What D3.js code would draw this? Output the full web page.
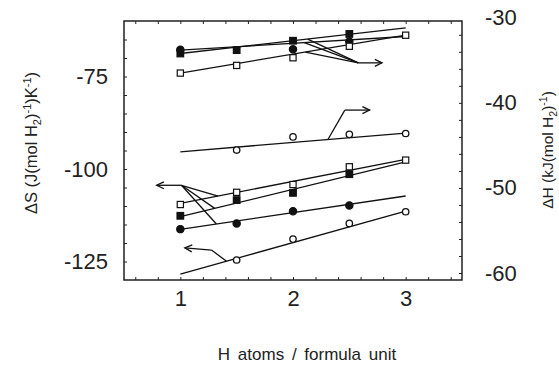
<!DOCTYPE html>
<html>
<head>
<meta charset="utf-8">
<script src="https://cdn.jsdelivr.net/npm/d3@7"></script>
<style>
  body { margin: 0; background: #fff; }
  svg { display: block; font-family: "Liberation Sans", Arial, sans-serif; }
</style>
</head>
<body>
<div id="chart"></div>
<script>
// H atoms per formula unit
const xValues = [1, 1.5, 2, 2.5, 3];

// Enthalpy (right axis, kJ/mol H2); null = no marker drawn
const dHFilledSquare = [-34.2, -33.8, -32.7, -31.9, null];
const dHFilledCircle = [-33.75, null, -33.7, -32.8, null];
const dHOpenSquare = [-36.5, -35.6, -34.7, -33.35, -32.05];
const dHOpenCircle = [null, -45.55, -44.0, -43.7, -43.6];

// Entropy (left axis, J/(mol H2 K))
const dSOpenSquare = [-109.6, -106.3, -104.2, -99.4, -97.6];
const dSFilledSquare = [-112.65, -108.4, -106.45, -101.4, null];
const dSFilledCircle = [-116.25, -114.7, -111.4, -109.85, null];
const dSOpenCircle = [null, -124.6, -118.95, -114.7, -111.55];

// fitted lines, value at x = 1 and x = 3
const fitX = [1, 3];
const dHFits = { fSq: [-34.2, -31.2], fCi: [-33.8, -32.2], oSq: [-36.5, -32.05], oCi: [-45.75, -43.55] };
const dSFits = { oSq: [-109.3, -97.4], fSq: [-112.9, -98.1], fCi: [-116.3, -107.3], oCi: [-128.4, -111.4] };

const xTickLabels = [1, 2, 3];
const leftTickLabels = [-75, -100, -125];
const rightTickLabels = [-30, -40, -50, -60];

const series = [
  { id: 'fSq', axis: 'H', shape: 'square', filled: true, values: dHFilledSquare, fit: dHFits.fSq },
  { id: 'fCi', axis: 'H', shape: 'circle', filled: true, values: dHFilledCircle, fit: dHFits.fCi },
  { id: 'oSq', axis: 'H', shape: 'square', filled: false, values: dHOpenSquare, fit: dHFits.oSq },
  { id: 'oCi', axis: 'H', shape: 'circle', filled: false, values: dHOpenCircle, fit: dHFits.oCi },
  { id: 'oSq', axis: 'S', shape: 'square', filled: false, values: dSOpenSquare, fit: dSFits.oSq },
  { id: 'fSq', axis: 'S', shape: 'square', filled: true, values: dSFilledSquare, fit: dSFits.fSq },
  { id: 'fCi', axis: 'S', shape: 'circle', filled: true, values: dSFilledCircle, fit: dSFits.fCi },
  { id: 'oCi', axis: 'S', shape: 'circle', filled: false, values: dSOpenCircle, fit: dSFits.oCi }
];

// leader arrows: start on fitted lines, bend, then point to the axis they belong to
const annotations = [
  { axis: 'H', starts: [['fSq', 2.13], ['fCi', 2.1], ['oSq', 2.11]], path: [[2.58, -35.3], [2.79, -35.3]] },
  { axis: 'H', starts: [['oCi', 2.31]], path: [[2.46, -40.85], [2.68, -40.85]] },
  { axis: 'S', starts: [['oSq', 1.335], ['fSq', 1.305], ['fCi', 1.32]], path: [[1.01, -104.4], [0.79, -104.4]] },
  { axis: 'S', starts: [['oCi', 1.41]], path: [[1.276, -121.9], [1.04, -121.3]] }
];

const width = 559, height = 369;
const margin = { top: 21, right: 97, bottom: 89, left: 124 };

const svg = d3.select('#chart').append('svg')
  .attr('width', width)
  .attr('height', height);

const x = d3.scaleLinear().domain([0.5, 3.5]).range([margin.left, width - margin.right]);
const yS = d3.scaleLinear().domain([-130, -60]).range([height - margin.bottom, margin.top]);
const yH = d3.scaleLinear().domain([-60.82, -30.38]).range([height - margin.bottom, margin.top]);
const yOf = axis => axis === 'H' ? yH : yS;
const plain = d => String(d); // hyphen minus like the original

// frame
svg.append('rect')
  .attr('x', x.range()[0]).attr('y', yS.range()[1])
  .attr('width', x.range()[1] - x.range()[0])
  .attr('height', yS.range()[0] - yS.range()[1])
  .attr('fill', 'none').attr('stroke', '#111').attr('stroke-width', 1.4);

// minor inward ticks
function minor(axisGen, transform) {
  const g = svg.append('g').attr('transform', transform).call(axisGen);
  g.select('.domain').remove();
  g.selectAll('.tick line').attr('stroke', '#222').attr('stroke-width', 1);
  return g;
}
const xMinor = d3.range(0.6, 3.41, 0.2);
minor(d3.axisBottom(x).tickValues(xMinor).tickSize(-3).tickFormat(''), `translate(0,${yS.range()[0]})`);
minor(d3.axisTop(x).tickValues(xMinor).tickSize(-3).tickFormat(''), `translate(0,${yS.range()[1]})`);
minor(d3.axisLeft(yS).tickValues(d3.range(-125, -60, 5)).tickSize(-3).tickFormat(''), `translate(${x.range()[0]},0)`);
minor(d3.axisRight(yH).tickValues(d3.range(-60, -30, 2)).tickSize(-3).tickFormat(''), `translate(${x.range()[1]},0)`);

// tick labels
function labels(axisGen, transform) {
  const g = svg.append('g').attr('transform', transform).call(axisGen);
  g.select('.domain').remove();
  g.selectAll('.tick line').remove();
  g.selectAll('text')
    .attr('font-family', '"Liberation Sans", Arial, sans-serif')
    .attr('font-size', 22).attr('fill', '#222');
  return g;
}
labels(d3.axisBottom(x).tickValues(xTickLabels).tickSize(0).tickPadding(10).tickFormat(plain),
  `translate(0,${yS.range()[0]})`);
labels(d3.axisLeft(yS).tickValues(leftTickLabels).tickSize(0).tickPadding(16).tickFormat(plain),
  `translate(${x.range()[0]},0)`);
labels(d3.axisRight(yH).tickValues(rightTickLabels).tickSize(0).tickPadding(23).tickFormat(plain),
  `translate(${x.range()[1]},0)`);

// fitted lines
const line = d3.line();
series.forEach(s => {
  const y = yOf(s.axis);
  svg.append('path')
    .attr('d', line(fitX.map((xv, i) => [x(xv), y(s.fit[i])])))
    .attr('fill', 'none').attr('stroke', '#111').attr('stroke-width', 1.3);
});

// markers
series.forEach(s => {
  const y = yOf(s.axis);
  const pts = xValues.map((xv, i) => ({ x: xv, v: s.values[i] })).filter(d => d.v !== null);
  const g = svg.append('g');
  if (s.shape === 'circle') {
    g.selectAll('circle').data(pts).join('circle')
      .attr('cx', d => x(d.x)).attr('cy', d => y(d.v))
      .attr('r', s.filled ? 3.6 : 3.2)
      .attr('fill', s.filled ? '#111' : '#fff')
      .attr('stroke', '#111').attr('stroke-width', 1.3);
  } else {
    const side = s.filled ? 6.6 : 6.2;
    g.selectAll('rect').data(pts).join('rect')
      .attr('x', d => x(d.x) - side / 2).attr('y', d => y(d.v) - side / 2)
      .attr('width', side).attr('height', side)
      .attr('fill', s.filled ? '#111' : '#fff')
      .attr('stroke', '#111').attr('stroke-width', 1.2);
  }
});

// leader arrows
function fitValue(axis, id, xv) {
  const s = series.find(d => d.axis === axis && d.id === id);
  const t = (xv - fitX[0]) / (fitX[1] - fitX[0]);
  return s.fit[0] + t * (s.fit[1] - s.fit[0]);
}
annotations.forEach(a => {
  const y = yOf(a.axis);
  const knee = [x(a.path[0][0]), y(a.path[0][1])];
  a.starts.forEach(([id, xv]) => {
    svg.append('path')
      .attr('d', line([[x(xv), y(fitValue(a.axis, id, xv))], knee]))
      .attr('fill', 'none').attr('stroke', '#111').attr('stroke-width', 1.3);
  });
  const pts = a.path.map(p => [x(p[0]), y(p[1])]);
  svg.append('path')
    .attr('d', line(pts))
    .attr('fill', 'none').attr('stroke', '#111').attr('stroke-width', 1.3);
  // open arrowhead
  const tip = pts[pts.length - 1], prev = pts[pts.length - 2];
  const ang = Math.atan2(tip[1] - prev[1], tip[0] - prev[0]);
  const len = 8, spread = 0.45;
  const h1 = [tip[0] - len * Math.cos(ang - spread), tip[1] - len * Math.sin(ang - spread)];
  const h2 = [tip[0] - len * Math.cos(ang + spread), tip[1] - len * Math.sin(ang + spread)];
  svg.append('path')
    .attr('d', line([h1, tip, h2]))
    .attr('fill', 'none').attr('stroke', '#111').attr('stroke-width', 1.3);
});

// axis titles
svg.append('text')
  .attr('x', (x.range()[0] + x.range()[1]) / 2 + 14)
  .attr('y', 360)
  .attr('text-anchor', 'middle')
  .attr('font-size', 17).attr('fill', '#222')
  .attr('word-spacing', 3)
  .text('H atoms / formula unit');

const leftTitle = svg.append('text')
  .attr('transform', `translate(37,143) rotate(-90)`)
  .attr('text-anchor', 'middle')
  .attr('font-size', 16.5).attr('fill', '#222');
leftTitle.append('tspan').text('ΔS (J(mol H');
leftTitle.append('tspan').attr('font-size', 11).attr('dy', 4).text('2');
leftTitle.append('tspan').attr('dy', -4).text(')');
leftTitle.append('tspan').attr('font-size', 11).attr('dy', -6).text('-1');
leftTitle.append('tspan').attr('dy', 6).text(')K');
leftTitle.append('tspan').attr('font-size', 11).attr('dy', -6).text('-1');
leftTitle.append('tspan').attr('dy', 6).text(')');

const rightTitle = svg.append('text')
  .attr('transform', `translate(553,150) rotate(-90)`)
  .attr('text-anchor', 'middle')
  .attr('font-size', 15.5).attr('fill', '#222');
rightTitle.append('tspan').text('ΔH (kJ(mol H');
rightTitle.append('tspan').attr('font-size', 10.5).attr('dy', 4).text('2');
rightTitle.append('tspan').attr('dy', -4).text(')');
rightTitle.append('tspan').attr('font-size', 10.5).attr('dy', -6).text('-1');
rightTitle.append('tspan').attr('dy', 6).text(')');
</script>
</body>
</html>
